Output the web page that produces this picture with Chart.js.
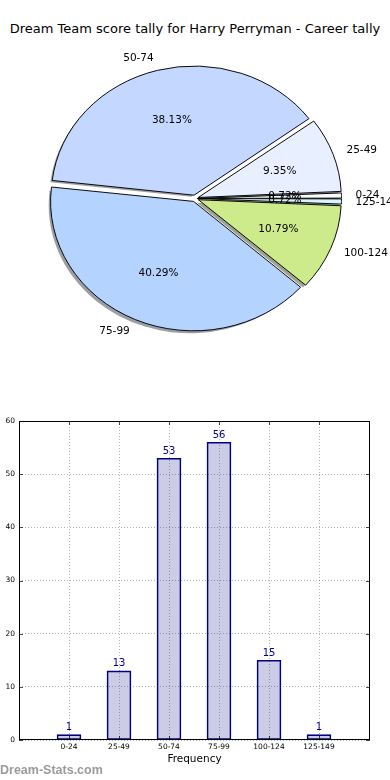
<!DOCTYPE html>
<html>
<head>
<meta charset="utf-8">
<script src="https://cdn.jsdelivr.net/npm/chart.js@4/dist/chart.umd.min.js"></script>
<style>
  html, body { margin: 0; padding: 0; background: #fff; }
  body { width: 390px; height: 780px; position: relative; overflow: hidden; }
  #title { position: absolute; left: 0; top: 21px; width: 390px; text-align: center;
           font: 13px "DejaVu Sans", sans-serif; color: #000; white-space: nowrap; }
  #pieWrap { position: absolute; left: 0; top: 0; width: 390px; height: 397px; }
  #barWrap { position: absolute; left: 0; top: 400px; width: 390px; height: 380px; }
  #wm { position: absolute; left: 0; top: 763px; font: bold 12.5px "Liberation Sans", Arial, sans-serif;
        color: #9a9a9a; white-space: nowrap; }
</style>
</head>
<body>
<div id="title">Dream Team score tally for Harry Perryman - Career tally</div>
<div id="pieWrap"><canvas id="pie" width="390" height="397"></canvas></div>
<div id="barWrap"><canvas id="bar" width="390" height="380"></canvas></div>
<div id="wm">Dream-Stats.com</div>
<script>
// ---- data ----
const categories = ['0-24', '25-49', '50-74', '75-99', '100-124', '125-149'];
const counts = [1, 13, 53, 56, 15, 1];
const pieColors = ['#fafaff', '#e8f0ff', '#c4d8ff', '#b4d4ff', '#cdeb8b', '#d6f4fa'];
const yTicks = [0, 10, 20, 30, 40, 50, 60];

// ---- pie (matplotlib style: CCW from east -> reverse order, clockwise from east) ----
const total = counts.reduce((a, b) => a + b, 0);
const pieLabels = categories.slice().reverse();
const pieData = counts.slice().reverse();
const pieBg = pieColors.slice().reverse();
const EXPLODE = 5;      // px radial shift of every wedge
const SY = 0.905;       // vertical squash (elliptical pie)
const SHADOW_DX = -2.8, SHADOW_DY = 2.6;

function arcShift(el) {
  const circ = el.endAngle - el.startAngle;
  const off = el.options.offset || 0;
  const fix = 1 - Math.sin(Math.min(Math.PI, circ));
  return off / 4 * (1 + fix);
}
function hexToRgb(h) {
  const n = parseInt(h.slice(1), 16);
  return [(n >> 16) & 255, (n >> 8) & 255, n & 255];
}

const pieSquash = {
  id: 'pieSquash',
  beforeDatasetsDraw(chart) {
    const ctx = chart.ctx;
    const a = chart.chartArea;
    const cx = (a.left + a.right) / 2, cy = (a.top + a.bottom) / 2;
    ctx.save();
    ctx.translate(cx, cy);
    ctx.scale(1, SY);
    ctx.translate(-cx, -cy);
    const meta = chart.getDatasetMeta(0);
    meta.data.forEach((el, i) => {
      const mid = (el.startAngle + el.endAngle) / 2;
      const t = arcShift(el);
      const x = el.x + Math.cos(mid) * t + SHADOW_DX;
      const y = el.y + Math.sin(mid) * t + SHADOW_DY / SY;
      const c = hexToRgb(pieBg[i]);
      ctx.beginPath();
      ctx.moveTo(x, y);
      ctx.arc(x, y, el.outerRadius, el.startAngle, el.endAngle);
      ctx.closePath();
      ctx.fillStyle = `rgba(${Math.round(c[0]*0.3)},${Math.round(c[1]*0.3)},${Math.round(c[2]*0.3)},0.5)`;
      ctx.fill();
    });
  },
  afterDatasetsDraw(chart) {
    const ctx = chart.ctx;
    ctx.restore();
    const a = chart.chartArea;
    const cy = (a.top + a.bottom) / 2;
    const meta = chart.getDatasetMeta(0);
    ctx.save();
    ctx.fillStyle = '#000';
    ctx.font = '10.5px "DejaVu Sans", sans-serif';
    ctx.textBaseline = 'middle';
    meta.data.forEach((el, i) => {
      const mid = (el.startAngle + el.endAngle) / 2;
      const t = arcShift(el);
      const R = el.outerRadius;
      const c = Math.cos(mid), s = Math.sin(mid);
      const lx = el.x + c * (t + 1.1 * R);
      const ly = cy + (el.y - cy + s * (t + 1.1 * R)) * SY;
      ctx.textAlign = c > 0 ? 'left' : 'right';
      ctx.fillText(pieLabels[i], lx, ly);
      const px = el.x + c * (t + 0.6 * R);
      const py = cy + (el.y - cy + s * (t + 0.6 * R)) * SY;
      ctx.textAlign = 'center';
      ctx.fillText((pieData[i] / total * 100).toFixed(2) + '%', px, py);
    });
    ctx.restore();
  }
};

new Chart(document.getElementById('pie'), {
  type: 'pie',
  data: {
    labels: pieLabels,
    datasets: [{
      data: pieData,
      backgroundColor: pieBg,
      borderColor: '#000',
      borderWidth: 1,
      borderJoinStyle: 'miter',
      offset: (ctx) => {
        const circ = 2 * Math.PI * pieData[ctx.dataIndex] / total;
        return EXPLODE * 4 / (2 - Math.sin(Math.min(Math.PI, circ)));
      }
    }]
  },
  options: {
    responsive: false,
    animation: false,
    rotation: 90,
    radius: 141.5,
    layout: { padding: 0 },
    events: [],
    plugins: { legend: { display: false }, tooltip: { enabled: false } }
  },
  plugins: [pieSquash]
});

// ---- bar chart ----
const barPoints = counts.map((v, i) => ({ x: i, y: v }));

const barExtras = {
  id: 'barExtras',
  afterDatasetsDraw(chart) {
    const ctx = chart.ctx;
    const meta = chart.getDatasetMeta(0);
    ctx.save();
    ctx.fillStyle = '#000080';
    ctx.font = '10px "DejaVu Sans", sans-serif';
    ctx.textAlign = 'center';
    ctx.textBaseline = 'middle';
    meta.data.forEach((el, i) => {
      ctx.fillText(String(counts[i]), el.x, el.y - 7);
    });
    ctx.restore();
  },
  afterDraw(chart) {
    const ctx = chart.ctx;
    const a = chart.chartArea;
    const xs = chart.scales.x, ys = chart.scales.y;
    ctx.save();
    ctx.strokeStyle = '#000';
    ctx.lineWidth = 1;
    ctx.strokeRect(Math.round(a.left) + 0.5, Math.round(a.top) + 0.5,
                   Math.round(a.right - a.left) - 1, Math.round(a.bottom - a.top) - 1);
    ctx.strokeStyle = 'rgba(0,0,0,0.7)';
    ctx.beginPath();
    yTicks.forEach(v => {
      const y = Math.round(ys.getPixelForValue(v)) + 0.5;
      ctx.moveTo(a.left, y); ctx.lineTo(a.left + 4, y);
      ctx.moveTo(a.right, y); ctx.lineTo(a.right - 4, y);
    });
    categories.forEach((c, i) => {
      const x = Math.round(xs.getPixelForValue(i)) + 0.5;
      ctx.moveTo(x, a.bottom); ctx.lineTo(x, a.bottom - 4);
      ctx.moveTo(x, a.top); ctx.lineTo(x, a.top + 4);
    });
    ctx.stroke();
    ctx.restore();
  }
};

new Chart(document.getElementById('bar'), {
  type: 'bar',
  data: {
    datasets: [{
      data: barPoints,
      backgroundColor: 'rgba(0,0,128,0.2)',
      borderColor: '#000080',
      borderWidth: 1,
      borderSkipped: false,
      barThickness: 24
    }]
  },
  options: {
    responsive: false,
    animation: false,
    events: [],
    layout: { padding: { left: 0, top: 21, right: 20, bottom: 0 } },
    plugins: { legend: { display: false }, tooltip: { enabled: false } },
    scales: {
      x: {
        type: 'linear',
        min: -1,
        max: 6.02,
        offset: false,
        afterFit(scale) { scale.height = 40; },
        afterBuildTicks(scale) {
          scale.ticks = categories.map((c, i) => ({ value: i }));
        },
        ticks: {
          autoSkip: false,
          maxRotation: 0,
          padding: 3,
          color: '#000',
          font: { family: '"DejaVu Sans", sans-serif', size: 7.5 },
          callback: (v) => (categories[v] !== undefined ? categories[v] : '')
        },
        grid: { offset: false, color: 'rgba(0,0,0,0.3)', lineWidth: 1, drawTicks: false },
        border: { display: false, dash: [1, 2] },
        title: {
          display: true,
          text: 'Frequency',
          color: '#000',
          font: { family: '"DejaVu Sans", sans-serif', size: 10.5 },
          padding: { top: 0, bottom: 14 }
        }
      },
      y: {
        min: 0,
        max: 60,
        afterFit(scale) { scale.width = 19; },
        afterBuildTicks(scale) { scale.ticks = yTicks.map(v => ({ value: v })); },
        ticks: {
          padding: 4,
          color: '#000',
          font: { family: '"DejaVu Sans", sans-serif', size: 7.5 }
        },
        grid: { color: 'rgba(0,0,0,0.3)', lineWidth: 1, drawTicks: false },
        border: { display: false, dash: [1, 2] }
      }
    }
  },
  plugins: [barExtras]
});
</script>
</body>
</html>
